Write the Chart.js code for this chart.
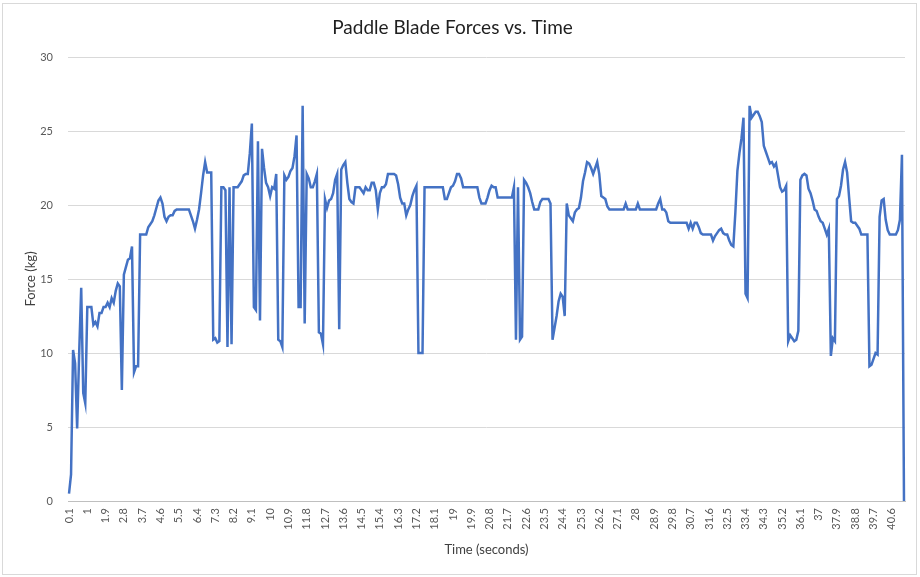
<!DOCTYPE html>
<html>
<head>
<meta charset="utf-8">
<title>Paddle Blade Forces vs. Time</title>
<script src="https://cdn.jsdelivr.net/npm/chart.js@4.4.1/dist/chart.umd.min.js"></script>
<style>
    html, body { margin: 0; padding: 0; background: #ffffff; }
    #wrap { position: relative; width: 920px; height: 577px; }
    #frame {
        position: absolute; left: 2px; top: 3px; width: 913px; height: 570px;
        border: 1px solid #d9d9d9; pointer-events: none;
    }
</style>
</head>
<body>
<div id="wrap">
    <canvas id="forceChart" width="920" height="577"></canvas>
    <div id="frame"></div>
</div>
<script>
// Force readings (kg), one every 0.1 s starting at t = 0.1 s
const forceKg = [
    0.5, 1.8, 10.2, 9.3, 4.9, 10.0, 14.4, 7.3, 6.6, 13.1,
    13.1, 13.1, 11.9, 12.1, 11.8, 12.7, 12.7, 13.1, 13.1, 13.4,
    13.1, 13.7, 13.4, 14.2, 14.7, 14.5, 7.5, 15.3, 15.8, 16.3,
    16.4, 17.2, 8.7, 9.1, 9.1, 18.0, 18.0, 18.0, 18.0, 18.5,
    18.7, 18.9, 19.3, 19.8, 20.3, 20.5, 20.1, 19.2, 18.9, 19.2,
    19.3, 19.3, 19.6, 19.7, 19.7, 19.7, 19.7, 19.7, 19.7, 19.7,
    19.3, 18.9, 18.4, 19.0, 19.7, 20.8, 22.0, 22.9, 22.2, 22.2,
    22.2, 10.9, 11.0, 10.7, 10.8, 21.2, 21.2, 21.0, 10.4, 21.2,
    10.6, 21.2, 21.2, 21.2, 21.4, 21.6, 22.0, 22.1, 22.1, 23.5,
    25.5, 13.1, 12.9, 24.3, 12.2, 23.8, 22.5, 21.5, 21.2, 20.6,
    21.2, 21.1, 22.1, 10.9, 10.8, 10.4, 22.0, 21.7, 21.9, 22.3,
    22.5, 23.3, 24.7, 13.1, 13.1, 26.7, 12.0, 22.1, 21.8, 21.2,
    21.2, 21.6, 22.1, 11.4, 11.3, 10.6, 20.4, 19.8, 20.3, 20.4,
    20.8, 21.7, 22.1, 11.6, 22.4, 22.7, 22.9, 21.5, 20.4, 20.2,
    20.1, 21.2, 21.2, 21.2, 21.0, 20.8, 21.2, 21.0, 21.0, 21.5,
    21.5, 21.0, 19.7, 20.8, 21.2, 21.2, 21.4, 22.1, 22.1, 22.1,
    22.1, 22.0, 21.4, 20.5, 20.1, 20.1, 19.3, 19.7, 20.0, 20.6,
    21.0, 21.3, 10.0, 10.0, 10.0, 21.2, 21.2, 21.2, 21.2, 21.2,
    21.2, 21.2, 21.2, 21.2, 21.2, 20.4, 20.4, 20.8, 21.2, 21.3,
    21.6, 22.1, 22.1, 21.8, 21.2, 21.2, 21.2, 21.2, 21.2, 21.2,
    21.2, 21.2, 20.5, 20.1, 20.1, 20.1, 20.5, 21.0, 21.3, 21.2,
    21.2, 20.5, 20.5, 20.5, 20.5, 20.5, 20.5, 20.5, 20.5, 21.2,
    10.9, 21.2, 10.9, 11.1, 21.7, 21.5, 21.2, 20.8, 20.2, 19.7,
    19.7, 19.7, 20.2, 20.4, 20.4, 20.4, 20.4, 20.1, 10.9, 11.7,
    12.5, 13.5, 14.0, 13.8, 12.5, 20.1, 19.3, 19.1, 18.9, 19.5,
    19.7, 19.8, 20.5, 21.6, 22.2, 22.9, 22.8, 22.5, 22.1, 22.5,
    22.9, 22.1, 20.6, 20.5, 20.4, 19.9, 19.7, 19.7, 19.7, 19.7,
    19.7, 19.7, 19.7, 19.7, 20.1, 19.7, 19.7, 19.7, 19.7, 19.7,
    20.1, 19.7, 19.7, 19.7, 19.7, 19.7, 19.7, 19.7, 19.7, 19.7,
    20.1, 20.4, 19.7, 19.7, 19.5, 18.9, 18.8, 18.8, 18.8, 18.8,
    18.8, 18.8, 18.8, 18.8, 18.8, 18.4, 18.8, 18.4, 18.8, 18.8,
    18.5, 18.1, 18.0, 18.0, 18.0, 18.0, 18.0, 17.6, 17.9, 18.1,
    18.3, 18.4, 18.1, 18.0, 18.0, 17.6, 17.3, 17.2, 19.5, 22.3,
    23.5, 24.5, 25.9, 14.0, 13.7, 26.7, 25.9, 26.1, 26.3, 26.3,
    26.0, 25.6, 24.0, 23.6, 23.2, 22.8, 22.9, 22.6, 22.8, 22.0,
    21.2, 20.9, 21.0, 21.3, 10.8, 11.2, 11.0, 10.8, 10.9, 11.5,
    21.7, 22.0, 22.1, 22.0, 21.1, 20.8, 20.3, 19.7, 19.6, 19.2,
    18.9, 18.8, 18.4, 18.0, 18.4, 9.8, 11.0, 10.8, 20.4, 20.6,
    21.3, 22.4, 22.9, 22.2, 20.5, 18.9, 18.8, 18.8, 18.6, 18.4,
    18.0, 18.0, 18.0, 18.0, 9.1, 9.2, 9.6, 10.0, 9.9, 19.2,
    20.3, 20.4, 19.0, 18.3, 18.0, 18.0, 18.0, 18.0, 18.3, 19.0,
    23.4, 0.0
];

// Time categories in seconds (0.1 s steps)
const timeLabels = forceKg.map((_, i) => String((i + 1) / 10));

// Excel only prints every 9th category label
const LABEL_EVERY = 9;

// Y axis ticks
const yMin = 0;
const yMax = 30;
const yStep = 5;

const LINE_BLUE = '#4472c4';
const TEXT_GREY = '#595959';
const FONT = "Lato, 'Open Sans', sans-serif";

const ctx = document.getElementById('forceChart').getContext('2d');
const chart = new Chart(ctx, {
    type: 'line',
    data: {
        labels: timeLabels,
        datasets: [{
            label: 'Force (kg)',
            data: forceKg,
            borderColor: LINE_BLUE,
            borderWidth: 2.5,
            pointRadius: 0,
            tension: 0,
            fill: false
        }]
    },
    options: {
        responsive: false,
        animation: false,
        layout: { padding: { left: 0, right: 15, top: 0, bottom: 0 } },
        plugins: {
            legend: { display: false },
            tooltip: { enabled: false },
            title: {
                display: true,
                text: 'Paddle Blade Forces vs. Time',
                color: '#1f1f1f',
                font: { family: FONT, size: 19, weight: 'normal' },
                padding: { top: 16, bottom: 18.2 }
            }
        },
        scales: {
            x: {
                offset: true,
                grid: { display: false, drawTicks: false },
                border: { display: true, color: '#bfbfbf', width: 1 },
                ticks: {
                    autoSkip: false,
                    minRotation: 90,
                    maxRotation: 90,
                    padding: 7,
                    color: TEXT_GREY,
                    font: { family: FONT, size: 11 },
                    callback: function (val, index) {
                        return index % LABEL_EVERY === 0 ? this.getLabelForValue(val) : null;
                    }
                },
                title: {
                    display: true,
                    text: 'Time (seconds)',
                    color: '#404040',
                    font: { family: FONT, size: 13 },
                    padding: { top: 4, bottom: 19 }
                },
                afterFit: (scale) => { scale.height = 76; }
            },
            y: {
                min: yMin,
                max: yMax,
                grid: { color: '#d9d9d9', lineWidth: 1, drawTicks: false },
                border: { display: false },
                ticks: {
                    stepSize: yStep,
                    padding: 15,
                    color: TEXT_GREY,
                    font: { family: FONT, size: 11 }
                },
                title: {
                    display: true,
                    text: 'Force (kg)',
                    color: '#404040',
                    font: { family: FONT, size: 13 },
                    padding: { top: 23, bottom: 0 }
                },
                afterFit: (scale) => { scale.width = 68; }
            }
        }
    }
});
</script>
</body>
</html>
